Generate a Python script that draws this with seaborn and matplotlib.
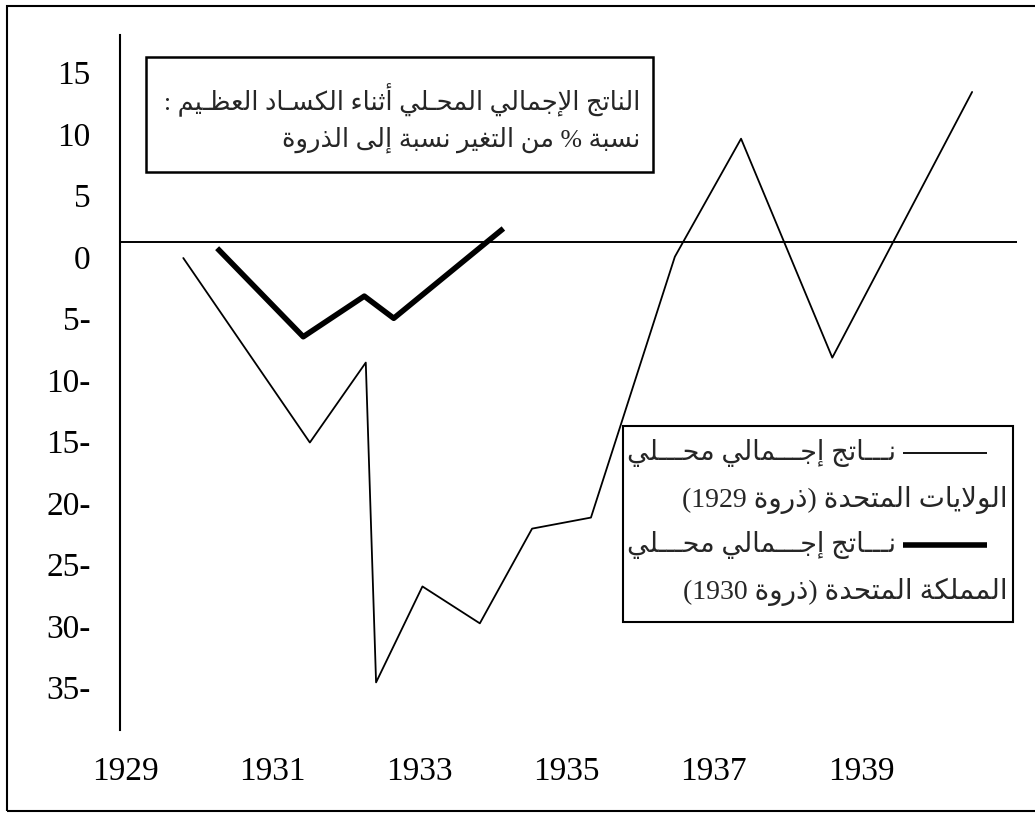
import re
import pandas as pd
import matplotlib
matplotlib.use("Agg")
import matplotlib.pyplot as plt
import matplotlib.transforms as mtransforms
from matplotlib.patches import Rectangle
from matplotlib.lines import Line2D
import seaborn as sns

# Chart data
US_YEARS = [1929.79, 1931.51, 1932.27, 1932.41, 1933.04, 1933.82, 1934.53,
            1935.33, 1936.47, 1937.37, 1938.61, 1940.51]
US_GDP = [-1.3, -16.3, -9.8, -35.8, -28.0, -31.0, -23.3, -22.4, -1.2, 8.4, -9.4, 12.2]
UK_YEARS = [1930.25, 1931.42, 1932.25, 1932.65, 1934.14]
UK_GDP = [-0.5, -7.7, -4.4, -6.2, 1.1]

X_TICKS = [1929, 1931, 1933, 1935, 1937, 1939]
Y_TICKS = [15, 10, 5, 0, -5, -10, -15, -20, -25, -30, -35]
Y_LABELS = [f"{abs(v)}-" if v < 0 else str(v) for v in Y_TICKS]

TITLE_LINES = ["الناتج الإجمالي المحـلي أثناء الكسـاد العظـيم :",
               "نسبة % من التغير نسبة إلى الذروة"]
SERIES_NAME = "نـــاتج إجـــمالي محـــلي"
US_NAME = "الولايات المتحدة (ذروة 1929)"
UK_NAME = "المملكة المتحدة (ذروة 1930)"

W, H = 1035, 814
SERIF = ["Liberation Serif", "DejaVu Sans"]
ARABIC = ["Liberation Serif", "DejaVu Sans"]

# --- minimal Arabic shaping + right-to-left ordering (matplotlib has none) ---
_FORMS = {
    'ء': (0xFE80, 1), 'آ': (0xFE81, 2), 'أ': (0xFE83, 2), 'ؤ': (0xFE85, 2),
    'إ': (0xFE87, 2), 'ئ': (0xFE89, 4), 'ا': (0xFE8D, 2), 'ب': (0xFE8F, 4),
    'ة': (0xFE93, 2), 'ت': (0xFE95, 4), 'ث': (0xFE99, 4), 'ج': (0xFE9D, 4),
    'ح': (0xFEA1, 4), 'خ': (0xFEA5, 4), 'د': (0xFEA9, 2), 'ذ': (0xFEAB, 2),
    'ر': (0xFEAD, 2), 'ز': (0xFEAF, 2), 'س': (0xFEB1, 4), 'ش': (0xFEB5, 4),
    'ص': (0xFEB9, 4), 'ض': (0xFEBD, 4), 'ط': (0xFEC1, 4), 'ظ': (0xFEC5, 4),
    'ع': (0xFEC9, 4), 'غ': (0xFECD, 4), 'ف': (0xFED1, 4), 'ق': (0xFED5, 4),
    'ك': (0xFED9, 4), 'ل': (0xFEDD, 4), 'م': (0xFEE1, 4), 'ن': (0xFEE5, 4),
    'ه': (0xFEE9, 4), 'و': (0xFEED, 2), 'ى': (0xFEEF, 2), 'ي': (0xFEF1, 4),
}
_LAM_ALEF = {'آ': 0xFEF5, 'أ': 0xFEF7, 'إ': 0xFEF9, 'ا': 0xFEFB}


def _join_type(c):
    if isinstance(c, tuple):
        return 'R'
    if c == 'ـ':
        return 'C'
    if c in _FORMS:
        return {4: 'D', 2: 'R'}.get(_FORMS[c][1], 'U')
    return 'U'


def rtl(text):
    chars, i = [], 0
    while i < len(text):
        if text[i] == 'ل' and i + 1 < len(text) and text[i + 1] in _LAM_ALEF:
            chars.append(('LA', text[i + 1]))
            i += 2
        else:
            chars.append(text[i])
            i += 1
    out = []
    for k, c in enumerate(chars):
        t = _join_type(c)
        prev = _join_type(chars[k - 1]) if k > 0 else 'U'
        nxt = _join_type(chars[k + 1]) if k + 1 < len(chars) else 'U'
        jp = t in 'DRC' and prev in 'DC'
        jn = t in 'DC' and nxt in 'DRC'
        if isinstance(c, tuple):
            out.append(chr(_LAM_ALEF[c[1]] + (1 if jp else 0)))
        elif c in _FORMS and t != 'U':
            base = _FORMS[c][0]
            idx = 3 if (jp and jn) else 2 if jn else 1 if jp else 0
            out.append(chr(base + idx))
        else:
            out.append(c)
    tokens = re.findall(r'[0-9]+|.', ''.join(out))
    mirror = {'(': ')', ')': '('}
    return ''.join(mirror.get(tok, tok) for tok in reversed(tokens))


def fx(x):
    return x / W


def fy(y):
    return 1 - y / H


sns.set_style("white")
plt.rcParams['font.family'] = SERIF

fig = plt.figure(figsize=(W / 100, H / 100), dpi=100)
ax = fig.add_axes([fx(120), fy(730), fx(1017) - fx(120), fy(35) - fy(730)])

us = pd.DataFrame({"year": US_YEARS, "gdp": US_GDP})
uk = pd.DataFrame({"year": UK_YEARS, "gdp": UK_GDP})
sns.lineplot(data=us, x="year", y="gdp", color="black", linewidth=1.3,
             estimator=None, sort=False, ax=ax)
sns.lineplot(data=uk, x="year", y="gdp", color="black", linewidth=4.0,
             estimator=None, sort=False, ax=ax, solid_capstyle="butt")
ax.axhline(0, color="black", linewidth=1.4)

ax.set_xlim(1928.93, 1941.12)
ax.set_ylim(-39.67, 16.83)
ax.set_xlabel("")
ax.set_ylabel("")
for side in ["top", "right", "bottom"]:
    ax.spines[side].set_visible(False)
ax.spines["left"].set_linewidth(1.5)
ax.spines["left"].set_color("black")

ax.set_xticks(X_TICKS)
ax.set_xticklabels([str(x) for x in X_TICKS])
ax.set_yticks(Y_TICKS)
ax.set_yticklabels(Y_LABELS)
ax.tick_params(axis="both", length=0, labelsize=24, colors="black")
ax.tick_params(axis="y", pad=21)
ax.tick_params(axis="x", pad=19)
shift = mtransforms.ScaledTranslation(0, -0.15, fig.dpi_scale_trans)
for lab in ax.get_yticklabels():
    lab.set_transform(lab.get_transform() + shift)

# title box
fig.add_artist(Rectangle((fx(146), fy(172)), fx(653) - fx(146), fy(57) - fy(172),
                         transform=fig.transFigure, fill=False, edgecolor="black",
                         linewidth=1.8))
for line, yy in zip(TITLE_LINES, [100, 140]):
    fig.text(fx(640), fy(yy), rtl(line), ha="right", va="center",
             fontsize=18.5, family=ARABIC)

# legend box
fig.add_artist(Rectangle((fx(623), fy(622)), fx(1013) - fx(623), fy(426) - fy(622),
                         transform=fig.transFigure, fill=False, edgecolor="black",
                         linewidth=1.5))
for yy, lw in [(453, 1.3), (545, 4.0)]:
    fig.add_artist(Line2D([fx(903), fx(987)], [fy(yy), fy(yy)], color="black",
                          linewidth=lw, transform=fig.transFigure,
                          solid_capstyle="butt"))
    fig.text(fx(896), fy(yy), rtl(SERIES_NAME), ha="right", va="center",
             fontsize=19.5, family=ARABIC)
fig.text(fx(1008), fy(500), rtl(US_NAME), ha="right", va="center",
         fontsize=20, family=ARABIC)
fig.text(fx(1008), fy(592), rtl(UK_NAME), ha="right", va="center",
         fontsize=20, family=ARABIC)

# outer frame
fig.add_artist(Rectangle((fx(7), fy(811)), fx(1045) - fx(7), fy(6) - fy(811),
                         transform=fig.transFigure, fill=False, edgecolor="black",
                         linewidth=1.5))

fig.savefig("out.png", dpi=100)
